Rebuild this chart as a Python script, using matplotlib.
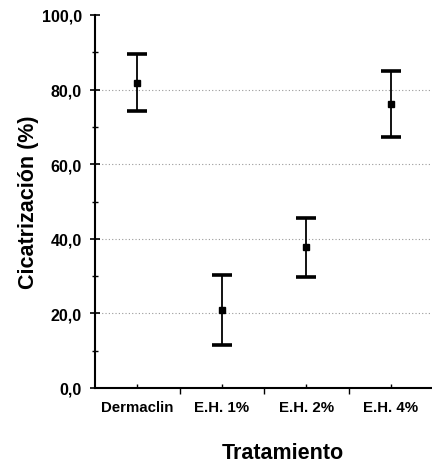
import matplotlib
from matplotlib import pyplot as plt
from matplotlib.ticker import MultipleLocator, FixedLocator
import numpy as np
plt.switch_backend('agg')

plt.rcParams['font.family'] = ['Liberation Sans', 'DejaVu Sans']

# data
categories = ['Dermaclin', 'E.H. 1%', 'E.H. 2%', 'E.H. 4%']
means = [81.8, 20.8, 37.7, 76.1]
upper = [89.5, 30.2, 45.6, 85.0]
lower = [74.3, 11.5, 29.8, 67.3]
yticks = [0, 20, 40, 60, 80, 100]
ytick_labels = ['0,0', '20,0', '40,0', '60,0', '80,0', '100,0']
grid_levels = [20, 40, 60, 80]

fig = plt.figure(figsize=(4.32, 4.64), dpi=100)
ax = fig.add_axes([95/432, 1 - 389/464, 338/432, 373/464])

xs = np.arange(len(categories))
means = np.array(means)
err = [means - np.array(lower), np.array(upper) - means]

# dotted grey reference lines
for g in grid_levels:
    ax.axhline(g, color='#9a9a9a', linestyle=(0, (1, 2)), linewidth=0.8, zorder=1)

ax.errorbar(xs, means, yerr=err, fmt='s', color='black', markersize=5,
            ecolor='black', elinewidth=1.3, capsize=7, capthick=2.6, zorder=3)

ax.set_xlim(-0.5, 3.5)
ax.set_ylim(0, 100)

ax.set_yticks(yticks)
ax.set_yticklabels(ytick_labels, fontsize=11.5, fontweight='bold')
ax.yaxis.set_minor_locator(MultipleLocator(10))
ax.tick_params(axis='y', which='major', direction='inout', length=7, width=1.2, pad=6)
ax.tick_params(axis='y', which='minor', direction='inout', length=4, width=1.0)

ax.set_xticks(xs)
ax.set_xticklabels(categories, fontsize=10.8, fontweight='bold')
ax.xaxis.set_minor_locator(FixedLocator([0.5, 1.5, 2.5]))
ax.tick_params(axis='x', which='major', direction='in', length=3, width=1.0, pad=9)
ax.tick_params(axis='x', which='minor', direction='out', length=4, width=1.0)

for side in ['top', 'right']:
    ax.spines[side].set_visible(False)
for side in ['left', 'bottom']:
    ax.spines[side].set_linewidth(1.5)

ax.set_ylabel('Cicatrización (%)', fontsize=15.5, fontweight='bold', labelpad=2)
fig.text(283/432, 1 - 454/464, 'Tratamiento', fontsize=15.5, fontweight='bold',
         ha='center', va='center')

plt.savefig('out.png', dpi=100)
